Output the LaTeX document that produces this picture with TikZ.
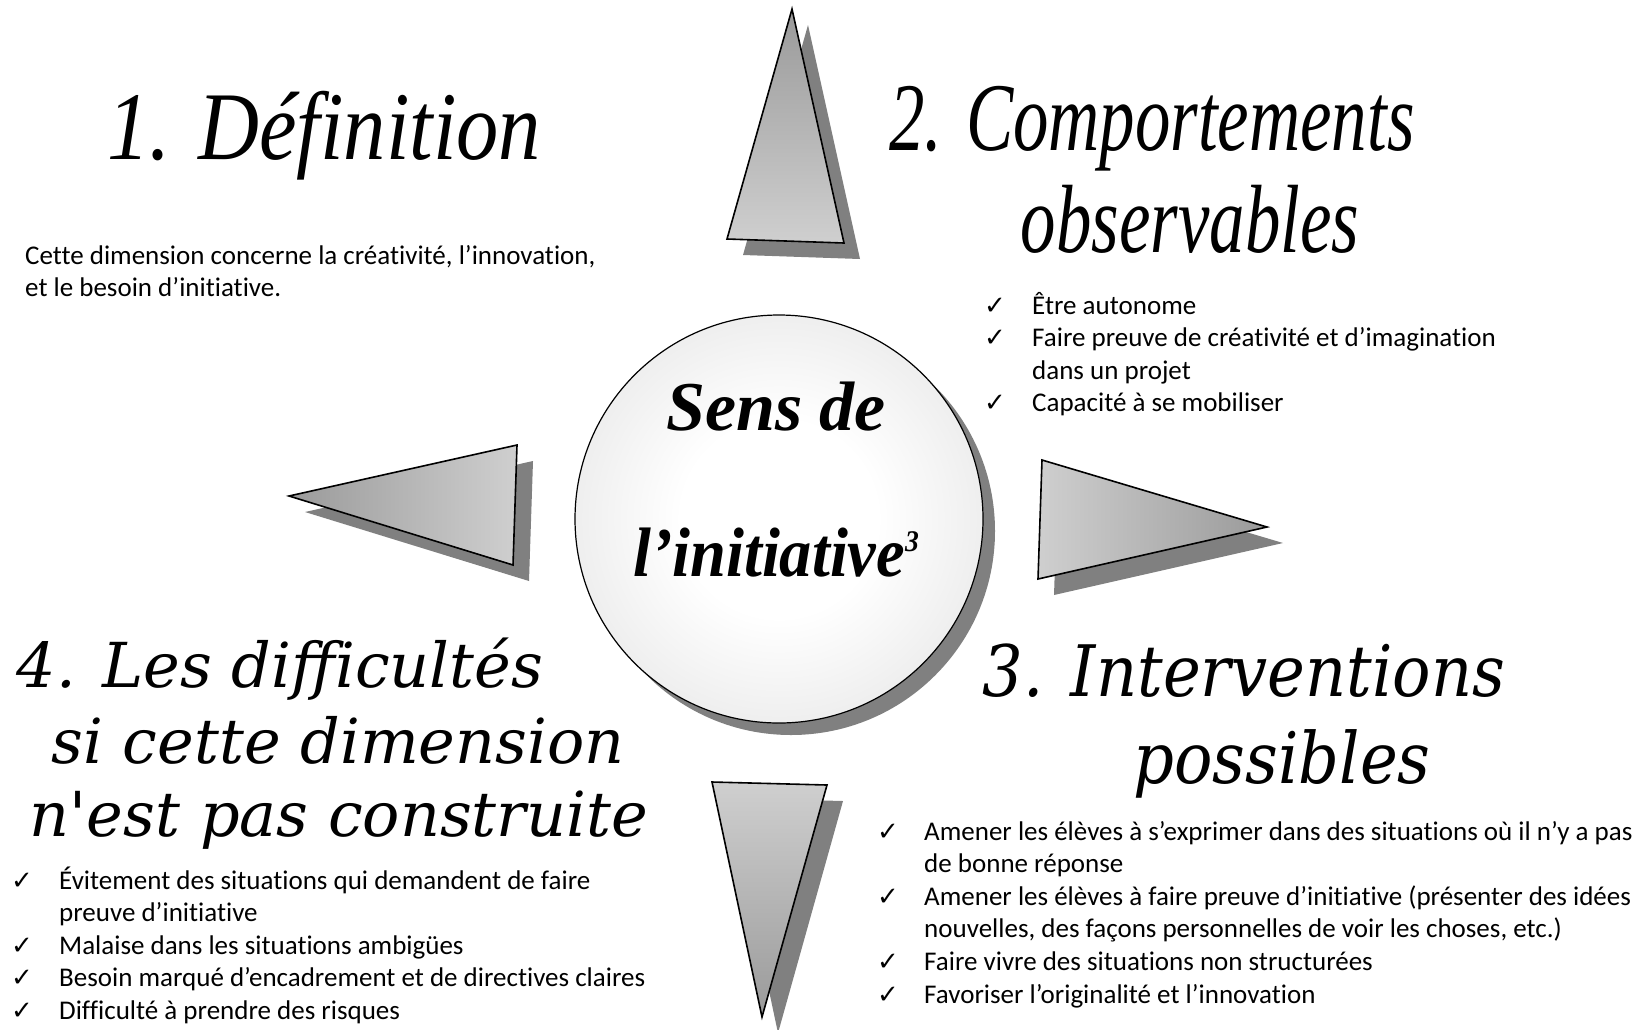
\documentclass[tikz,border=0pt]{standalone}
\usepackage{fontspec}
\usetikzlibrary{positioning,shadows}
\setmainfont{Liberation Serif}
\newfontfamily\bodyfont[Ligatures=NoCommon]{Carlito}
\newfontfamily\tickfont{DejaVu Sans}
\newfontfamily\wideital[FakeStretch=0.9,Ligatures=TeXOff]{DejaVu Serif}
\newfontfamily\wideitalb[Ligatures=TeXOff]{DejaVu Serif}
\definecolor{shadowgray}{HTML}{808080}
\definecolor{tridark}{HTML}{9A9A9A}
\definecolor{trilight}{HTML}{CFCFCF}
\pgfdeclareradialshading{hubshade}{\pgfpoint{0bp}{0bp}}{color(0bp)=(white); color(12bp)=(white); color(50bp)=(black!19)}
\newcommand{\ck}{{\tickfont\fontsize{26}{26}\selectfont ✓}}
\newcommand{\pointer}[4]{%
  \fill[shadowgray,shift={(16,16)}] #1 -- #2 -- #3 -- cycle;
  \shadedraw[tri,#4] #1 -- #2 -- #3 -- cycle;
}

\begin{document}
\begin{tikzpicture}[x=1pt,y=-1pt,
    tri/.style={draw=black,line width=1.6pt,line join=miter},
    hub/.style={circle,draw=black,line width=1.2pt,minimum size=408pt,inner sep=0pt,
      shading=hubshade,
      drop shadow={shadow xshift=12pt,shadow yshift=-12pt,fill=shadowgray,opacity=1}},
    hubtext/.style={anchor=base,inner sep=0pt,font=\bfseries\itshape\fontsize{70}{80}\selectfont},
    tallhead/.style={anchor=base,inner sep=0pt,font=\itshape\fontsize{97}{110}\selectfont},
    threehead/.style={anchor=base,inner sep=0pt,font=\wideital\itshape\fontsize{71}{80}\selectfont},
    fourhead/.style={anchor=base,inner sep=0pt,font=\wideitalb\itshape\fontsize{62}{72}\selectfont},
    list/.style={anchor=base west,inner sep=0pt,font=\bodyfont\fontsize{27}{32.6}\selectfont}]
  \path[fill=white,use as bounding box] (0,0) rectangle (1645,1029);

  % the four pointers
  \pointer{(792,9)}{(727,239)}{(844,243)}{top color=tridark,bottom color=trilight}
  \pointer{(289,496)}{(517,445)}{(513,565)}{left color=tridark,right color=trilight}
  \pointer{(1042,460)}{(1267,527)}{(1038,579)}{left color=trilight,right color=tridark}
  \pointer{(712,782)}{(827,785)}{(762,1017)}{top color=trilight,bottom color=tridark}

  % centre
  \node[hub] (hub) at (779,519) {};
  \node[hubtext] (sens) at (776,430) {Sens de};
  \node[hubtext] (init) at (776,576) {\scalebox{0.92}[1]{l’initiative\raisebox{25pt}{\fontsize{30}{30}\selectfont 3}}};

  % 1
  \node[tallhead] (defh) at (324,159) {\scalebox{0.87}[1]{1. Définition}};
  \node[list] (deft) at (25,264) {\begin{tabular}[t]{@{}l@{}}
    Cette dimension concerne la créativité, l’innovation,\\
    et le besoin d’initiative.
  \end{tabular}};

  % 2
  \node[tallhead] (obsh) at (1152,150) {\scalebox{0.73}[1]{2. Comportements}};
  \node[tallhead] (obsh2) at (1190,252) {\scalebox{0.73}[1]{observables}};
  \node[list] (obst) at (984,314) {\begin{tabular}[t]{@{}p{48pt}@{}l@{}}
    \ck & Être autonome\\
    \ck & Faire preuve de créativité et d’imagination\\
        & dans un projet\\
    \ck & Capacité à se mobiliser
  \end{tabular}};

  % 3
  \node[threehead] (inth) at (1244,696) {3. Interventions};
  \node[threehead] (inth2) at (1282,783) {possibles};
  \node[list] (intt) at (877,840) {\begin{tabular}[t]{@{}p{47pt}@{}l@{}}
    \ck & Amener les élèves à s’exprimer dans des situations où il n’y a pas\\
        & de bonne réponse\\
    \ck & Amener les élèves à faire preuve d’initiative (présenter des idées\\
        & nouvelles, des façons personnelles de voir les choses, etc.)\\
    \ck & Faire vivre des situations non structurées\\
    \ck & Favoriser l’originalité et l’innovation
  \end{tabular}};

  % 4
  \node[fourhead] (difh) at (280,687) {4. Les difficultés};
  \node[fourhead] (difh2) at (338,763) {si cette dimension};
  \node[fourhead] (difh3) at (339,836) {n'est pas construite};
  \node[list] (dift) at (11,889) {\begin{tabular}[t]{@{}p{48pt}@{}l@{}}
    \ck & Évitement des situations qui demandent de faire\\
        & preuve d’initiative\\
    \ck & Malaise dans les situations ambigües\\
    \ck & Besoin marqué d’encadrement et de directives claires\\
    \ck & Difficulté à prendre des risques
  \end{tabular}};
\end{tikzpicture}
\end{document}
